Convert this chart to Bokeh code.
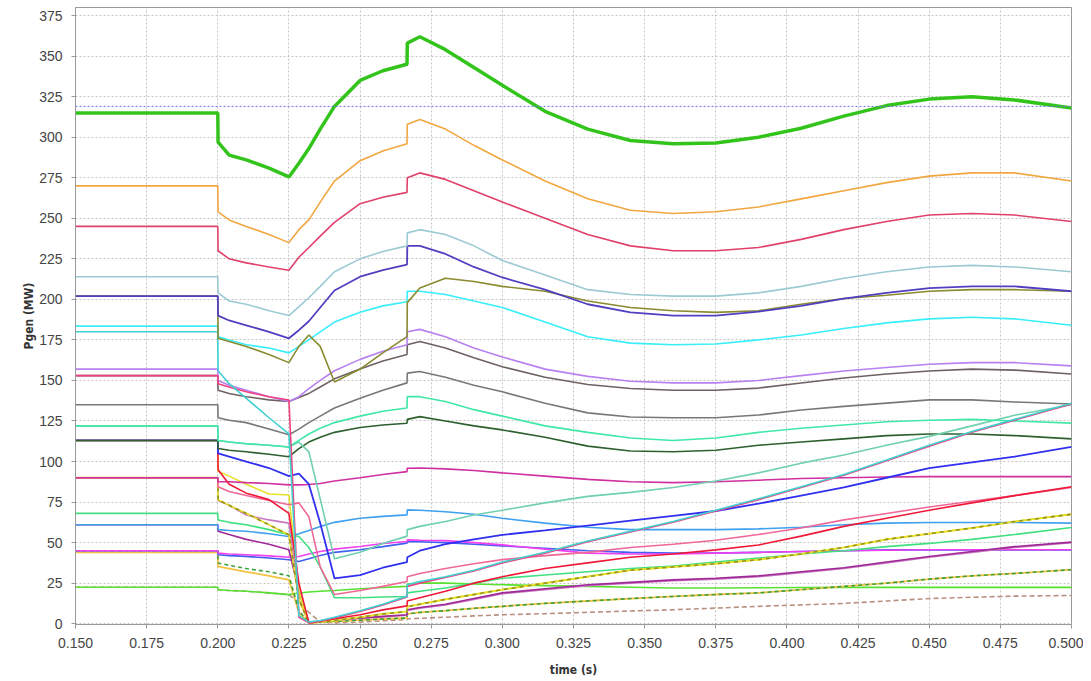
from bokeh.plotting import figure
from bokeh.models import NumeralTickFormatter, FixedTicker, Range1d, Span
from bokeh.embed import file_html
from bokeh.resources import INLINE

# ---------------- data ----------------
time_s = [0.150, 0.200, 0.2001, 0.204, 0.210, 0.218, 0.225, 0.2285, 0.232, 0.236, 0.241, 0.250,
          0.258, 0.2665, 0.2666, 0.271, 0.280, 0.290, 0.300, 0.315, 0.330, 0.345, 0.360, 0.375,
          0.390, 0.405, 0.420, 0.435, 0.450, 0.465, 0.480, 0.500]

gen_green = [315,315,297,289,286,281,275.5,284,293,305,319,335,341,345,358,362,354,343,332,316,305,298,296,296.5,300,305.5,313,319.5,323.5,325,323,318]
gen_orange = [270,270,254,249,245,240,235,243,249,260,273,285.5,291.5,296,308,311,305,295,286,273,262,255,253,254,257,262,267,272,276,278,278,273]
gen_crimson = [245,245,230,225,222.5,220,218,226,232,239,247.5,259,263,266,275,278,274,267,260,250,240,233,230,230,232,237,243,248,252,253,252,248]
gen_slate = [214,214,204,199,197,193,190,195.5,201,208,217,225,229.5,233,241,243,240,233,224,215,206,203,202,202,204,208,213,217,220,221,220,217]
gen_indigo = [202,202,190,187,184,180,176,181,186.5,195,205.5,214,218,221.5,233,233,228,220,213.5,206,197,192,190,190,192.5,196,200.5,204,207,208,208,205]
gen_olive = [202,202,176,174,171,166,161,171,178,171,149,157,167,177,198,207,213,211,208,205,199,195,193,192,193,197,200.5,202.5,205,206,206,205]
gen_cyan = [183.5,183.5,177,175,172,170,167,171,175,180,186,192,196,198.5,205,205,203,199,195,186,177,173,172,172.5,175,178,182,185.5,188,189,188,184]
gen_turq = [180,180,156,148,139,127,117,5,1,2,4,8,12,17,24,26,29,33,38,44,51,57,63,70,77,84.5,92,101,110,118.5,126,136]
gen_rose = [153,153,148,146,143,140,138,4,0.5,1.5,3.5,7.5,11.5,16.5,23,25,28.5,32.5,37.5,43.5,50.5,56.5,62.5,69.5,76.5,84,91.5,100.5,109.5,118,125.5,135.5]
gen_violet = [157,157,150,147,144,140,137,140,145,150,156,163,168,172,180,181.5,177,170,164.5,157,152.5,149.5,148.5,148.5,150,153,155.8,158,160,161,161,159]
gen_taupe = [153,153,144,142,140,138,137,139.5,142,146,151,157,162,166,172,174,170,164,158.5,152,147.5,145,144,144,145.3,148.4,151.5,154,155.8,157,156.4,154]
gen_grey = [135,135,127,125.5,124,120,116.5,120,124,128,133,139,144,148.5,154.5,155.5,152,147,143,136,130,127.5,127,127,128.7,131.8,134,136,138,138,136.7,135.5]
gen_spring = [122,122,113,112,111,110,109,113,117,120.5,124,128,131,133,140,140,137,132,128,122,118,114.5,113,114.5,118,120.5,122.5,124.5,125.5,126,125,123.7]
gen_aqua = [122,122,113,112,111,110,109,112,106,77,40,44,49.5,54,58,60,63,67,70,74.5,78.5,81,84,88,93,99,104,110,115.5,122,128.5,135]
gen_forest = [113,113,108,107,106,104.5,103,108,112,115,118,121,122.5,123.6,126,127.7,125,122,119.5,115,109.5,106.5,106,107,110,112,114,116,117,117,116,114]
gen_blue = [113,113,105,103,100,96,91,92.5,86,62,28,30,34.5,38,41,45,49,52,54.8,57.5,60.5,63.5,66.5,69.5,74,79,84,90,96,99.5,103,109]
gen_red = [113,113,95,86,80.5,76.5,68,25,0.5,1.5,3,5.5,8.5,11,14,16,20,25,29,34,37.5,41,43,45.5,48.5,54,60,65,70,74.5,79,84.4]
gen_lemon = [113,113,94,91,86,80,79.4,20,0.5,1,2,4,6,7.5,10.5,12,15,18,21,25,29,33,35,37,39.5,43,47,52,55.5,59,63,67.5]
gen_gold = [90,90,76.4,73,68,61,54.8,15,0.5,1,2,4,6,7.5,10.5,12,15,18,21,25,29,33,35,37,39.5,43,47,52,55.5,59,63,67.5]
gen_magenta = [90,90,87.6,87.5,87,86.5,85.6,85.6,85.8,86.5,88,90,92,93.8,95.9,96,95.5,94.5,93,91,89,87.5,87,87.5,88.5,89.5,90,90.5,90.7,90.7,90.7,90.7]
gen_hotpink = [90,90,84.5,81.5,79,76,73.3,74.5,66,35,18,20.5,23,26,29,31,34,37,39.5,42,44,47,49,51.5,55,59,64,68,72,75.5,79,84]
gen_mint = [68,68,64,62.5,61,58,54.8,53.8,47,35,16,16,16.5,16.8,19,20,22,25,28,30,32,34,35.5,38,40.5,43,45,47.5,49.5,52,55,59.3]
gen_sky = [61,61,58,57.5,57,55.5,53.8,55.5,57.5,60,62.5,65,66.2,67.1,70.2,70,69,67.5,65,62,59.5,58,58,58,58.5,59.5,61,62,62.4,62.4,62.4,62]
gen_purple = [61,61,57,55,52,49,45.6,20,1,1.5,2.5,3.5,4.5,5.5,8.6,10,12,15.5,19,21.5,24,25.5,27,28,29.5,32,34.5,38,41.4,44.5,47.5,50.3]
gen_plum = [90,90,76,73,67,64,62,15,0.5,1.2,2.2,3.2,4.2,5.2,8.2,9.6,11.6,15,18.5,21,23.5,25,26.5,27.5,29,31.5,34,37.5,41,44,47,50]
gen_fuchsia = [45,45,43.5,43,42.5,41.8,41,41.4,43,44.5,46,47.6,49.5,50.7,51.7,51.5,51.2,50,48.6,46,43.5,43,43,43.5,44,44.5,45,45.3,45.6,45.6,45.6,45.6]
gen_royal = [45,45,42.5,42,41.5,40.5,39.4,38.4,40,42,44,45.6,47.5,49.7,50.5,50.5,50,49,48,46.5,45,44,43.5,43.5,44,44.5,45,45.5,45.5,45.5,45.5,45.5]
gen_fern = [45,45,37.4,36,34,32,29.6,8,0.5,1,1.5,2.2,2.9,3.5,6,7,8,9.5,10.7,12.5,14,15.5,16.8,18,19,21,23,25,27.5,29.5,31,33.3]
gen_amber = [44,44,35.3,34,32,29.5,27,7,0.5,1,1.5,2.2,2.9,3.5,6,7,8,9.5,10.7,12.5,14,15.5,16.8,18,19,21,23,25,27.5,29.5,31,33.3]
gen_lime = [22.5,22.5,20.9,20.5,20,19,17.9,18.9,19.5,20,20.5,21.5,22.3,23,24.5,25,25,24.5,24,23.5,23,22.5,22,22,22.2,22.3,22.4,22.4,22.4,22.4,22.4,22.4]
gen_tan = [22.5,22.5,20.9,20.5,20,19,17.9,13,7,1,0.5,1,1.8,2.5,3,3.3,4,4.8,5.5,6.2,7,7.8,8.6,9.6,10.7,11.6,12.5,14,15.5,16.3,17,17.4]

limit_mw = 319
x_ticks = [0.150, 0.175, 0.200, 0.225, 0.250, 0.275, 0.300, 0.325, 0.350, 0.375, 0.400, 0.425, 0.450, 0.475, 0.500]
y_ticks = [0, 25, 50, 75, 100, 125, 150, 175, 200, 225, 250, 275, 300, 325, 350, 375]

# ---------------- figure ----------------
p = figure(width=1083, height=679, output_backend="svg", toolbar_location=None,
           x_range=Range1d(0.15, 0.5), y_range=Range1d(-0.5, 380),
           min_border_left=75, min_border_right=12, min_border_top=7, min_border_bottom=50)
p.background_fill_color = "white"
p.border_fill_color = "white"
p.outline_line_color = "#9a9a9a"
p.outline_line_width = 1

for g in (p.xgrid, p.ygrid):
    g.grid_line_color = "#c4c4c4"
    g.grid_line_dash = "2 2"
    g.grid_line_width = 1

p.xaxis.ticker = FixedTicker(ticks=x_ticks)
p.yaxis.ticker = FixedTicker(ticks=y_ticks)
p.xaxis.formatter = NumeralTickFormatter(format="0.000")
for ax in (p.xaxis, p.yaxis):
    ax.axis_line_color = "#9a9a9a"
    ax.major_tick_line_color = "#9a9a9a"
    ax.minor_tick_line_color = None
    ax.major_tick_out = 4
    ax.major_tick_in = 0
    ax.major_label_text_font = "Liberation Sans"
    ax.major_label_text_font_size = "14px"
    ax.major_label_text_color = "#454545"
    ax.axis_label_text_font = "DejaVu Sans Condensed"
    ax.axis_label_text_font_style = "bold"
    ax.axis_label_text_font_size = "12px"
    ax.axis_label_text_color = "#333333"
p.xaxis.axis_label = "time (s)"
p.yaxis.axis_label = "Pgen (MW)"
p.xaxis.major_label_standoff = 9
p.xaxis.axis_label_standoff = 12
p.yaxis.major_label_standoff = 9
p.yaxis.axis_label_standoff = 0

p.add_layout(Span(location=limit_mw, dimension="width", line_color="#7070f0",
                  line_dash="2 2", line_width=1))

styles = [
    (gen_tan, "#b89080", 1.6, "5 3"),
    (gen_lime, "#58e030", 1.6, None),
    (gen_amber, "#f4c440", 1.8, None),
    (gen_fern, "#40a040", 1.6, "4 3"),
    (gen_royal, "#4060f0", 1.6, None),
    (gen_fuchsia, "#f040f0", 1.6, None),
    (gen_plum, "#c878c0", 1.6, None),
    (gen_purple, "#a02898", 1.6, None),
    (gen_sky, "#40a0f0", 1.6, None),
    (gen_mint, "#40e080", 1.6, None),
    (gen_gold, "#e8dc30", 1.8, None),
    (gen_lemon, "#e8e028", 1.6, None),
    (gen_gold, "#949420", 1.6, "4 4"),
    (gen_hotpink, "#f06898", 1.6, None),
    (gen_magenta, "#d030a0", 1.6, None),
    (gen_red, "#f01838", 1.6, None),
    (gen_blue, "#3030f0", 1.8, None),
    (gen_forest, "#2e602e", 1.6, None),
    (gen_aqua, "#70d0b0", 1.6, None),
    (gen_spring, "#40e8a8", 1.6, None),
    (gen_grey, "#787878", 1.6, None),
    (gen_taupe, "#6e6262", 1.6, None),
    (gen_violet, "#b880f0", 1.6, None),
    (gen_rose, "#f04080", 1.6, None),
    (gen_turq, "#40d0d0", 1.6, None),
    (gen_cyan, "#38eefa", 1.6, None),
    (gen_olive, "#8a8a30", 1.6, None),
    (gen_indigo, "#5040c0", 1.8, None),
    (gen_slate, "#9ccad2", 1.6, None),
    (gen_crimson, "#e0406a", 1.6, None),
    (gen_orange, "#f2a640", 1.6, None),
    (gen_green, "#33c41c", 3.5, None),
]
for vals, col, w, dash in styles:
    kw = dict(line_color=col, line_width=w)
    if dash:
        kw["line_dash"] = dash
    p.line(time_s, vals, **kw)

open("out.html", "w").write(file_html(p, INLINE))
